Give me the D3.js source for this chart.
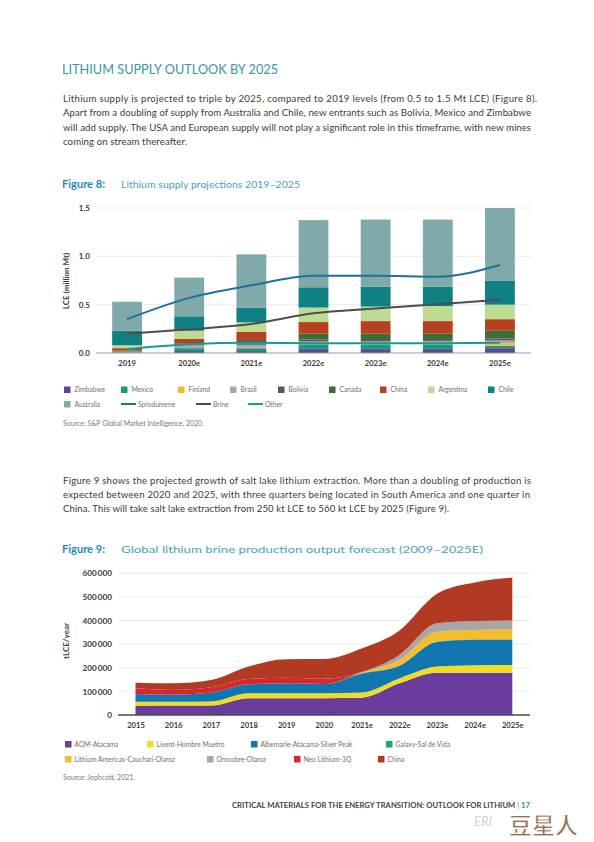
<!DOCTYPE html>
<html><head><meta charset="utf-8">
<script src="https://cdn.jsdelivr.net/npm/d3@7"></script>
<style>
body{margin:0;background:#fff;}
svg{display:block;font-family:Lato,"Noto Sans",sans-serif;}
</style></head>
<body>
<svg id="page" width="594" height="842"></svg>
<script>
// ---------- Figure 8 data ----------
const years8 = ["2019","2020e","2021e","2022e","2023e","2024e","2025e"];
const zimbabwe  = [0.005,0.02,0.02,0.04,0.04,0.04,0.05];
const mexico    = [0.0,0.03,0.03,0.05,0.05,0.05,0.025];
const finland   = [0.0,0.0,0.005,0.01,0.01,0.015,0.025];
const brazil    = [0.01,0.03,0.03,0.02,0.02,0.02,0.03];
const bolivia   = [0.0,0.01,0.015,0.02,0.015,0.01,0.02];
const canada    = [0.01,0.01,0.034,0.06,0.065,0.065,0.08];
const china8    = [0.025,0.045,0.086,0.12,0.13,0.13,0.12];
const argentina = [0.03,0.085,0.097,0.15,0.15,0.156,0.15];
const chile     = [0.15,0.15,0.153,0.21,0.205,0.199,0.25];
const australia = [0.30,0.40,0.55,0.695,0.695,0.695,0.75];
const spodumene = [0.35,0.57,0.70,0.80,0.80,0.79,0.91];
const brine     = [0.20,0.245,0.30,0.41,0.46,0.505,0.55];
const other     = [0.04,0.09,0.105,0.10,0.10,0.10,0.105];
const ticks8 = [0.0,0.5,1.0,1.5];

// ---------- Figure 9 data ----------
const years9 = ["2015","2016","2017","2018","2019","2020","2021e","2022e","2023e","2024e","2025e"];
const aqm       = [39000,40000,40000,71000,71000,71000,73000,134000,179000,179000,179000];
const livent    = [17000,16000,17000,21000,21000,21000,22000,21000,26000,32000,33000];
const albemarle = [33000,30000,38000,38000,42000,39000,80000,53000,104000,108000,107000];
const galaxy    = [0,0,0,0,0,0,2000,2000,2000,2000,2000];
const lac       = [0,0,0,0,0,0,2000,23000,42000,39000,42000];
const orocobre  = [0,0,0,0,0,0,3000,21000,35000,38000,37000];
const neo       = [24000,20000,22000,22000,24000,22000,0,0,0,0,0];
const chinaB    = [24000,28000,31000,53000,78000,84000,100000,103000,125000,163000,182000];
const ticks9 = [0,100000,200000,300000,400000,500000,600000];
const tickLabels9 = ["0","100\u2009000","200\u2009000","300\u2009000","400\u2009000","500\u2009000","600\u2009000"];

const svg = d3.select("#page");
svg.append("rect").attr("width",594).attr("height",842).attr("fill","#fff");

// ---------- Text ----------
const teal = "#3a96a6";
svg.append("text").attr("x",62).attr("y",74).attr("font-size",13.5).attr("fill",teal)
  .attr("textLength",216).attr("lengthAdjust","spacingAndGlyphs")
  .text("LITHIUM SUPPLY OUTLOOK BY 2025");

function para(lines, y0, dy){
  lines.forEach((l,i)=>{
    const t = svg.append("text").attr("x",63).attr("y",y0+i*dy).attr("font-size",9.6).attr("fill","#3b3b3b").text(l.t);
    if(l.w) t.attr("textLength",l.w).attr("lengthAdjust","spacing");
  });
}
para([
 {t:"Lithium supply is projected to triple by 2025, compared to 2019 levels (from 0.5 to 1.5 Mt LCE) (Figure 8).", w:474},
 {t:"Apart from a doubling of supply from Australia and Chile, new entrants such as Bolivia, Mexico and Zimbabwe", w:468},
 {t:"will add supply. The USA and European supply will not play a significant role in this timeframe, with new mines", w:468},
 {t:"coming on stream thereafter.", w:124}
], 102, 14.3);

para([
 {t:"Figure 9 shows the projected growth of salt lake lithium extraction. More than a doubling of production is", w:468},
 {t:"expected between 2020 and 2025, with three quarters being located in South America and one quarter in", w:467},
 {t:"China. This will take salt lake extraction from 250 kt LCE to 560 kt LCE by 2025 (Figure 9).", w:386}
], 483.5, 14.2);

function figTitle(num, sub, y, subW){
  svg.append("text").attr("x",62).attr("y",y).attr("font-size",10.5).attr("font-weight",700)
    .attr("fill","#1b8db3").attr("textLength",43).attr("lengthAdjust","spacingAndGlyphs").text(num);
  svg.append("text").attr("x",121).attr("y",y).attr("font-size",10.4).attr("fill","#4aa3b5")
    .attr("textLength",subW).attr("lengthAdjust","spacingAndGlyphs").text(sub);
}
figTitle("Figure 8:","Lithium supply projections 2019\u20132025",188,179);
figTitle("Figure 9:","Global lithium brine production output forecast (2009\u20132025E)",553,362);

// ---------- Figure 8 chart ----------
const names8 = ["Zimbabwe","Mexico","Finland","Brazil","Bolivia","Canada","China","Argentina","Chile","Australia"];
const series8 = [zimbabwe,mexico,finland,brazil,bolivia,canada,china8,argentina,chile,australia];
const colors8 = ["#65409a","#1b9a7c","#f4b731","#a9a9a9","#585858","#3d6b3a","#b8401f","#bedb94","#0f8084","#80aaa9"];

const x8 = d3.scaleBand().domain(years8).range([96,531]).paddingInner(0.52).paddingOuter(0.26);
const y8 = d3.scaleLinear().domain([0,1.5]).range([353,208]);

const g8 = svg.append("g");
g8.selectAll("line.grid").data(ticks8.filter(d=>d>0)).join("line")
  .attr("x1",96).attr("x2",531).attr("y1",d=>y8(d)).attr("y2",d=>y8(d))
  .attr("stroke","#e6e6e6").attr("stroke-width",0.8);

const rows8 = years8.map((yr,i)=>{const o={year:yr}; names8.forEach((n,k)=>o[n]=series8[k][i]); return o;});
const stack8 = d3.stack().keys(names8)(rows8);
g8.selectAll("g.layer").data(stack8).join("g").attr("fill",(d,i)=>colors8[i])
  .selectAll("rect").data(d=>d).join("rect")
  .attr("x",d=>x8(d.data.year)).attr("width",x8.bandwidth())
  .attr("y",d=>y8(d[1])).attr("height",d=>y8(d[0])-y8(d[1]));

g8.append("line").attr("x1",96).attr("x2",531).attr("y1",y8(0)).attr("y2",y8(0))
  .attr("stroke","#9a9a9a").attr("stroke-width",1.2);

const lineGen8 = d3.line().x((d,i)=>x8(years8[i])+x8.bandwidth()/2).y(d=>y8(d)).curve(d3.curveMonotoneX);
const lines8 = [{n:"Sprodumene",v:spodumene,c:"#1f6f9f"},{n:"Brine",v:brine,c:"#4d4d4d"},{n:"Other",v:other,c:"#17999b"}];
lines8.forEach(l=>{
  g8.append("path").attr("d",lineGen8(l.v)).attr("fill","none").attr("stroke",l.c).attr("stroke-width",2);
});

const axL8 = d3.axisLeft(y8).tickValues(ticks8).tickFormat(d3.format(".1f")).tickSize(0).tickPadding(6);
const ax8 = svg.append("g").attr("transform","translate(96,0)").call(axL8);
ax8.select(".domain").remove();
ax8.selectAll("text").attr("font-size",8).attr("font-weight",700).attr("fill","#3a3a3a").attr("font-family","Lato");

const axB8 = d3.axisBottom(x8).tickSize(0).tickPadding(8);
const axb8 = svg.append("g").attr("transform","translate(0,353)").call(axB8);
axb8.select(".domain").remove();
axb8.selectAll("text").attr("font-size",7.6).attr("font-weight",700).attr("fill","#3a3a3a").attr("font-family","Lato");

svg.append("text").attr("transform","translate(69,281) rotate(-90)").attr("text-anchor","middle")
  .attr("font-size",8).attr("font-weight",700).attr("fill","#3a3a3a").text("LCE (million Mt)");

// legend 8
const leg8a = [
 {n:"Zimbabwe",x:64},{n:"Mexico",x:121},{n:"Finland",x:178},{n:"Brazil",x:230},{n:"Bolivia",x:278},
 {n:"Canada",x:329},{n:"China",x:380},{n:"Argentina",x:428},{n:"Chile",x:488}];
leg8a.forEach(d=>{
  const k = names8.indexOf(d.n);
  svg.append("rect").attr("x",d.x).attr("y",386.5).attr("width",6.5).attr("height",6.5).attr("fill",colors8[k]);
  svg.append("text").attr("x",d.x+10.5).attr("y",392).attr("font-size",6.7).attr("fill","#707070").text(d.n);
});
svg.append("rect").attr("x",64).attr("y",401).attr("width",6.5).attr("height",6.5).attr("fill",colors8[9]);
svg.append("text").attr("x",74.5).attr("y",406.5).attr("font-size",6.7).attr("fill","#707070").text("Australia");
const leg8b = [{x:121,tx:138},{x:196,tx:213},{x:248,tx:265}];
lines8.forEach((l,i)=>{
  svg.append("line").attr("x1",leg8b[i].x).attr("x2",leg8b[i].x+15).attr("y1",404).attr("y2",404).attr("stroke",l.c).attr("stroke-width",2);
  svg.append("text").attr("x",leg8b[i].tx).attr("y",406.5).attr("font-size",6.7).attr("fill","#707070").text(l.n);
});
svg.append("text").attr("x",63).attr("y",426).attr("font-size",7).attr("fill","#7a7a7a").text("Source: S&P Global Market Intelligence, 2020.");

// ---------- Figure 9 chart ----------
const names9 = ["AQM-Atacama","Livent-Hombre Muetro","Albemarle-Atacama-Silver Peak","Galaxy-Sal de Vida","Lithium Americas-Cauchari-Olaroz","Orocobre-Olaroz","Neo Lithium-3Q","China"];
const series9 = [aqm,livent,albemarle,galaxy,lac,orocobre,neo,chinaB];
const colors9 = ["#6a3c9e","#f1dc1f","#1176b0","#1ca57a","#f4bd2a","#aaa6a6","#d8272c","#b33a22"];

const x9 = d3.scalePoint().domain(years9).range([135.5,512.3]);
const y9 = d3.scaleLinear().domain([0,600000]).range([715,573.3]);

svg.selectAll("line.grid9").data(ticks9.filter(d=>d>0)).join("line")
  .attr("x1",118).attr("x2",530).attr("y1",d=>y9(d)).attr("y2",d=>y9(d))
  .attr("stroke","#e6e6e6").attr("stroke-width",0.8);

const rows9 = years9.map((yr,i)=>{const o={year:yr}; names9.forEach((n,k)=>o[n]=series9[k][i]); return o;});
const stack9 = d3.stack().keys(names9)(rows9);
const area9 = d3.area().x(d=>x9(d.data.year)).y0(d=>y9(d[0])).y1(d=>y9(d[1])).curve(d3.curveMonotoneX);
svg.append("g").selectAll("path").data(stack9).join("path")
  .attr("d",area9).attr("fill",(d,i)=>colors9[i]);

svg.append("line").attr("x1",118).attr("x2",530).attr("y1",y9(0)).attr("y2",y9(0))
  .attr("stroke","#4a4a4a").attr("stroke-width",1.3);

const axL9 = d3.axisLeft(y9).tickValues(ticks9).tickFormat((d,i)=>tickLabels9[i]).tickSize(0).tickPadding(6);
const ax9 = svg.append("g").attr("transform","translate(118,0)").call(axL9);
ax9.select(".domain").remove();
ax9.selectAll("text").attr("font-size",8.2).attr("font-weight",700).attr("fill","#3a3a3a").attr("font-family","Lato");

const axB9 = d3.axisBottom(x9).tickSize(0).tickPadding(8);
const axb9 = svg.append("g").attr("transform","translate(0,715)").call(axB9);
axb9.select(".domain").remove();
axb9.selectAll("text").attr("font-size",7.6).attr("font-weight",700).attr("fill","#3a3a3a").attr("font-family","Lato");

svg.append("text").attr("transform","translate(69,641) rotate(-90)").attr("text-anchor","middle")
  .attr("font-size",8).attr("font-weight",700).attr("fill","#3a3a3a").text("tLCE/year");

// legend 9
const leg9 = [
 {k:0,x:65,y:741},{k:1,x:147,y:741},{k:2,x:251,y:741},{k:3,x:386,y:741},
 {k:4,x:65,y:756},{k:5,x:207,y:756},{k:6,x:294,y:756},{k:7,x:378,y:756}];
leg9.forEach(d=>{
  svg.append("rect").attr("x",d.x).attr("y",d.y).attr("width",6.5).attr("height",6.5).attr("fill",colors9[d.k]);
  svg.append("text").attr("x",d.x+9.5).attr("y",d.y+5.8).attr("font-size",6.7).attr("fill","#707070").text(names9[d.k]);
});
svg.append("text").attr("x",63).attr("y",780).attr("font-size",7).attr("fill","#7a7a7a").text("Source: Jephcott, 2021.");

// ---------- Footer ----------
const ft = svg.append("text").attr("x",232).attr("y",807.5).attr("font-size",6.8).attr("font-weight",700).attr("fill","#454545")
  .attr("textLength",298).attr("lengthAdjust","spacingAndGlyphs");
ft.append("tspan").text("CRITICAL MATERIALS FOR THE ENERGY TRANSITION: OUTLOOK FOR LITHIUM ");
ft.append("tspan").attr("fill","#8aa").text("| ");
ft.append("tspan").attr("fill","#2a93b0").text("17");

// watermark
svg.append("text").attr("x",474).attr("y",826).attr("font-size",13).attr("font-style","italic").attr("fill","#cfd4d8").text("ERI");
svg.append("text").attr("x",509).attr("y",834).attr("font-size",23).attr("font-weight",700)
  .attr("font-family","Noto Sans CJK SC").attr("fill","#8a5a40").attr("fill-opacity",0.9)
  .attr("stroke","#fff").attr("stroke-width",0.8).text("豆星人");
</script>
</body></html>
